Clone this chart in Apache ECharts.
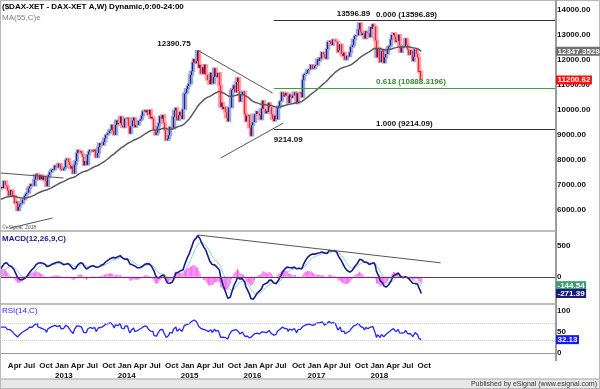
<!DOCTYPE html>
<html><head><meta charset="utf-8">
<script src="https://cdn.jsdelivr.net/npm/echarts@6/dist/echarts.min.js"></script>
<style>html,body{margin:0;padding:0;background:#fff;}#chart{width:600px;height:389px;}</style>
</head><body><div id="chart"></div>
<script>
const FONT = 'Liberation Sans, Arial, sans-serif';
const firstWeek = '2011-01-07';
const displayStart = '2012-02-24';
const displayWeeks = 460;

// weekly closes (Friday), DAX-XET
const closes2011 = [6948,7076,7063,7067, 7217,7371,7426,7185, 7178,6982,6664,6946, 7179,7217,7148,7262,7514, 7492,7418,7249,7164, 7109,7069,7164,7121, 7419,7373,7220,7344,7159, 6237,5997,5602,5537, 5246,5189,5573,5164,5502, 5675,5967,5971,6346, 5966,5985,5800,5493, 6080,5986,5702,5878,5898];
const closes2012 = [6058,6143,6404,6511, 6766,6692,6849,6864, 6921,6880,7157,6996,6947, 6775,6583,6801,6761, 6562,6579,6271,6339, 5978,6130,6229,6263,6416, 6410,6558,6630,6690, 6865,6944,7040,6971,6970, 7214,7412,7451,7216, 7398,7233,7380,7203, 7363,7163,6950,7309,7405, 7518,7596,7636,7612];
const closes2013 = [7776,7715,7702,7857, 7833,7634,7593,7661, 7708,7986,8058,7913,7795, 7658,7744,7459,7814, 7962,8278,8399,8305,8349, 8255,8128,7790,7959, 7807,8212,8331,8403, 8404,8338,8370,8417,8104, 8276,8509,8675,8596, 8596,8725,8870,9001, 9009,9078,9168,9213,9406, 9172,9006,9400,9589];
const closes2014 = [9435,9473,9742,9392,9306, 9301,9662,9657,9692, 9350,9056,9343,9588, 9695,9315,9409,9401, 9556,9581,9630,9768,9943, 9987,9912,9987,9815, 10009,9666,9720,9644, 9210,9010,9092,9340,9470, 9748,9651,9799,9490, 9195,8788,8851,8988,9327, 9291,9252,9732,9980, 10087,9594,9787,9927];
const closes2015 = [9765,9648,10032,10649,10694, 10846,10963,11051,11402, 11551,11901,12040,11868, 11968,12375,11689,11811, 11454,11709,11447,11815,11414, 11197,11197,11041,11492, 11059,11315,11673,11347,11309, 11490,10985,10124,10298, 10038,10123,9916,9688, 9553,10096,10104,10795,10850, 10988,10708,11119,11293, 10752,10340,10608,10728];
const closes2016 = [10743,9849,9545,9765,9798, 9286,8967,9389,9514, 9825,9832,9951,9851, 9795,9622,10051,10374,10039, 9870,9953,9917,10287, 10103,9834,9631,9557, 9776,9630,10067,10147,10337, 10367,10713,10544,10588, 10684,10573,10276,10627,10511, 10490,10580,10711,10696, 10259,10668,10665,10699, 10513,11203,11404,11450,11481];
const closes2017 = [11599,11630,11630,11814, 11651,11667,11757,11804, 12027,11963,12095,12064,12313, 12225,12109,12049,12438, 12717,12770,12638,12602, 12823,12816,12752,12733,12325, 12389,12632,12240,12163, 12297,12014,12165,12168, 12142,12304,12519,12592,12829, 12956,12992,12991,13218, 13479,13127,12994,13060, 12861,13153,13103,13072,12918];
const closes2018 = [13320,13245,13434,13340, 12785,12107,12452,12483, 11914,12346,12390,11886,12097, 12241,12442,12540,12580, 12820,13001,13078,12938, 12724,12767,13011,12580,12306, 12497,12540,12561,12860, 12616,12424,12210,12394,12364, 11960,12124,12431,12247, 12111,11524,11554,11200.62];

const monthLabels = {0:'Jan', 3:'Apr', 6:'Jul', 9:'Oct'};
const priceTicks = [6000,7000,8000,9000,10000,11000,12000,13000,14000];
const macdTicks = [0,500];
const rsiTicks = [0,50,100];

const peakNotes = [
  {date:'2015-04-10', value:12390.75, text:'12390.75', dx:-7, dy:-6, align:'right'},
  {date:'2018-01-26', value:13596.89, text:'13596.89', dx:-4, dy:-6, align:'right'},
  {date:'2016-06-24', value:9214.09, text:'9214.09', dx:0, dy:10, align:'left'}
];
const fibStart = '2016-06-24';
const fibLabelDate = '2018-01-26';
const fibRatios = ['0.000','0.618','1.000'];
const fibValues = [13596.89, 10888.3196, 9214.09];
const fibColors = ['#333333','#3f9f3f','#333333'];
const fibTextColors = ['#111111','#2f8f2f','#111111'];
const trendLines = [
  [['2015-04-10',12390.75],['2016-06-17',10680]],
  [['2015-08-21',8080],['2016-08-19',9480]],
  [['2012-02-24',7480],['2013-02-22',7280]],
  [['2012-04-20',5280],['2012-12-21',5680]]
];
const macdTrend = [['2015-04-10',677],['2019-02-15',226]];
const lastLabels = [
  {grid:0, text:'12347.3529', bg:'#707070'},
  {grid:0, text:'11200.62', bg:'#ff1010'},
  {grid:1, text:'-144.54', bg:'#3a9e6e'},
  {grid:1, text:'-271.39', bg:'#1a1a80'},
  {grid:2, text:'32.13', bg:'#1a1aff'}
];

// ---- build
const closes = [].concat(closes2011, closes2012, closes2013, closes2014, closes2015, closes2016, closes2017, closes2018);
const allWeeks = [];
function fmt(t){ return new Date(t).toISOString().slice(0,10); }
let t0 = Date.parse(firstWeek + 'T00:00:00Z');
let startIdx = -1;
for (let i = 0; ; i++) {
  const d = fmt(t0 + i*7*86400000);
  allWeeks.push(d);
  if (d === displayStart) startIdx = i;
  if (startIdx >= 0 && i >= startIdx + displayWeeks - 1) break;
}
const lastIdx = closes.length - 1;
const cats = allWeeks.slice(startIdx);

function ema(arr, n){ const k = 2/(n+1); const out = []; let e = arr[0]; for (let i=0;i<arr.length;i++){ e = i===0 ? arr[0] : arr[i]*k + e*(1-k); out.push(e);} return out; }
function rsiCalc(arr, n){ const out=[50]; let ag=0, al=0; for (let i=1;i<arr.length;i++){ const d=arr[i]-arr[i-1]; const g=Math.max(d,0), l=Math.max(-d,0); if (i<=n){ ag+=g/n; al+=l/n; } else { ag=(ag*(n-1)+g)/n; al=(al*(n-1)+l)/n; } out.push(al===0?100:100-100/(1+ag/al)); } return out; }

const ma55 = ema(closes, 55);
const e12 = ema(closes, 12), e26 = ema(closes, 26);
const macd = closes.map((c,i)=>e12[i]-e26[i]);
const signal = ema(macd, 9);
const hist = macd.map((m,i)=>m-signal[i]);
const rsi = rsiCalc(closes, 14);

const candles = [];
for (let i = startIdx; i <= lastIdx; i++) {
  const o = closes[i-1], c = closes[i];
  candles.push([o, c, Math.min(o,c), Math.max(o,c)]);
}
const sl = a => a.slice(startIdx, lastIdx+1);
const idx = d => cats.indexOf(d);

const chart = echarts.init(document.getElementById('chart'), null, {renderer:'canvas'});

const gridR = 44;
const grids = [
  {left:0, right:gridR, top:0, height:230},
  {left:0, right:gridR, top:232, height:71},
  {left:0, right:gridR, top:305, height:55}
];
function xAx(i){
  const base = {type:'category', gridIndex:i, data:cats, boundaryGap:true,
    axisLine:{show:false}, axisTick:{show:false}, splitLine:{show:false}, axisLabel:{show:false}};
  if (i===2) {
    base.axisLine = {show:true, lineStyle:{color:'#9a9a9a', width:1}};
    base.axisLabel = {show:true, align:'left', margin:1, fontFamily:FONT, fontWeight:'bold', fontSize:8, lineHeight:10, color:'#111',
      interval:(k, v)=>{ const gi = k + startIdx; if (gi > lastIdx) return false; const d = new Date(v+'T00:00:00Z'); return d.getUTCDate()<=7 && (d.getUTCMonth()%3===0); },
      formatter:(v)=>{ const d = new Date(v+'T00:00:00Z'); const m = monthLabels[d.getUTCMonth()]; return m==='Jan' ? m + '\n' + d.getUTCFullYear() : m; }
    };
  }
  return base;
}
function yAx(i, min, max, interval, ticks, fmtFn){
  return {type:'value', gridIndex:i, position:'right', min, max, interval, scale:false,
    axisLine:{show:false}, axisTick:{show:false}, splitLine:{show:false},
    axisLabel:{margin:1, fontFamily:FONT, fontWeight:'bold', fontSize:8, color:'#111',
      formatter:v=> ticks.indexOf(Math.round(v*1000)/1000)>=0 && Math.abs(v-Math.round(v))<1e-6 ? fmtFn(v) : ''}};
}

const mlLines = trendLines.map(l => [
  {coord:[idx(l[0][0]), l[0][1]], lineStyle:{color:'#555', width:1, type:'solid'}},
  {coord:[idx(l[1][0]), l[1][1]]}
]);
fibValues.forEach((v,k)=>{
  mlLines.push([{coord:[idx(fibStart), v], lineStyle:{color:fibColors[k], width:1.2, type:'solid'}}, {coord:[cats.length-1, v]}]);
});

chart.setOption({
  animation:false,
  grid:grids,
  xAxis:[xAx(0), xAx(1), xAx(2)],
  yAxis:[
    yAx(0, 5200, 14400, 200, priceTicks, v=>v.toFixed(2)),
    yAx(1, -425, 725, 25, macdTicks, v=>String(v)),
    yAx(2, -16, 114, 2, rsiTicks, v=>String(v))
  ],
  series:[
    {type:'candlestick', xAxisIndex:0, yAxisIndex:0, data:candles, barWidth:4,
      itemStyle:{color:'#9ea9dd', color0:'#ffa3ae', borderColor:'#9ea9dd', borderColor0:'#ffa3ae', borderWidth:1.5}},
    {type:'candlestick', xAxisIndex:0, yAxisIndex:0, data:candles, barWidth:1,
      itemStyle:{color:'#1c2380', color0:'#ff2020', borderColor:'#1c2380', borderColor0:'#ff2020', borderWidth:1.2}},
    {type:'line', xAxisIndex:0, yAxisIndex:0, data:sl(ma55), symbol:'none', lineStyle:{color:'#5a5a5a', width:1.5},
      markLine:{silent:true, symbol:['none','none'], label:{show:false}, animation:false, data:mlLines}},
    {type:'bar', xAxisIndex:1, yAxisIndex:1, data:sl(hist), barCategoryGap:'10%', itemStyle:{color:'rgba(250,80,240,0.85)'},
      markLine:{silent:true, symbol:['none','none'], label:{show:false}, lineStyle:{color:'#6b3262', width:1, type:'solid'}, data:[{yAxis:0}]}},
    {type:'line', xAxisIndex:1, yAxisIndex:1, data:sl(signal), symbol:'none', lineStyle:{color:'#86d4c6', width:1}},
    {type:'line', xAxisIndex:1, yAxisIndex:1, data:sl(macd), symbol:'none', lineStyle:{color:'#1a1a8c', width:1.6},
      markLine:{silent:true, symbol:['none','none'], label:{show:false},
        data:[[{coord:[idx(macdTrend[0][0]), macdTrend[0][1]], lineStyle:{color:'#555', width:1, type:'solid'}}, {coord:[idx(macdTrend[1][0]), macdTrend[1][1]]}]]}},
    {type:'line', xAxisIndex:2, yAxisIndex:2, data:sl(rsi), symbol:'none', lineStyle:{color:'#2424ff', width:1.3},
      markLine:{silent:true, symbol:['none','none'], label:{show:false}, lineStyle:{color:'#c8c8c8', width:1, type:'dotted'}, data:[{yAxis:70},{yAxis:30}]}}
  ]
});

// ---- annotations
const g = [];
const meas = document.createElement('canvas').getContext('2d');
function tw(txt, font){ meas.font = font; return meas.measureText(txt).width; }
const BF = 'bold 8px ' + FONT;
function txt(x, y, s, fill, font, align){ g.push({type:'text', silent:true, z:100, style:{x, y, text:s, fill, font:font||BF, textAlign:align||'left', align:align||'left', textVerticalAlign:'middle', verticalAlign:'middle'}}); }
function line(x1,y1,x2,y2,stroke,w){ g.push({type:'line', silent:true, z:90, shape:{x1,y1,x2,y2}, style:{stroke, lineWidth:w}}); }
const px = (gi, d, v) => chart.convertToPixel({gridIndex:gi}, [d, v]);

peakNotes.forEach(n => { const p = px(0, idx(n.date), n.value); txt(p[0]+n.dx, p[1]+n.dy, n.text, '#111', BF, n.align); });
const fl = px(0, idx(fibLabelDate), 0)[0] + 2;
fibValues.forEach((v,k) => { const p = px(0, 0, v); txt(fl, p[1]-5.5, fibRatios[k] + ' (' + v.toFixed(k===1?4:2) + ')', fibTextColors[k]); });

// frames
line(556, 0, 556, 361, '#9c9c9c', 2);
line(0, 231, 556, 231, '#a8a8a8', 1.5);
line(0, 304, 556, 304, '#a8a8a8', 1.5);
g.push({type:'rect', silent:true, z:80, shape:{x:0, y:379, width:600, height:10}, style:{fill:'#e8e8e8', stroke:'#a0a0a0', lineWidth:1}});
g.push({type:'rect', silent:true, z:80, shape:{x:0.5, y:0.5, width:599, height:388}, style:{fill:'none', stroke:'#b8b8b8', lineWidth:1}});

// last value boxes
lastLabels.forEach(L => {
  const v = parseFloat(L.text);
  const y = px(L.grid, 0, v)[1];
  const w = tw(L.text, BF) + 3;
  g.push({type:'rect', silent:true, z:95, shape:{x:556, y:y-4.5, width:w, height:9}, style:{fill:L.bg}});
  txt(557.5, y, L.text, '#fff');
});

// titles
txt(2, 7, '($DAX-XET - DAX-XET A,W) Dynamic,0:00-24:00', '#000');
txt(2, 18, 'MA(55,C)e', '#808080', '8px ' + FONT);
txt(2, 239, 'MACD(12,26,9,C)', '#1a1a8c');
txt(2, 311, 'RSI(14,C)', '#2424ff', '8px ' + FONT);
txt(2, 228, '©eSignal, 2018', '#555', 'italic 5px ' + FONT);
txt(597, 384, 'Published by eSignal (www.esignal.com)', '#333', '7px ' + FONT, 'right');

chart.setOption({graphic:g});
</script>
</body></html>
